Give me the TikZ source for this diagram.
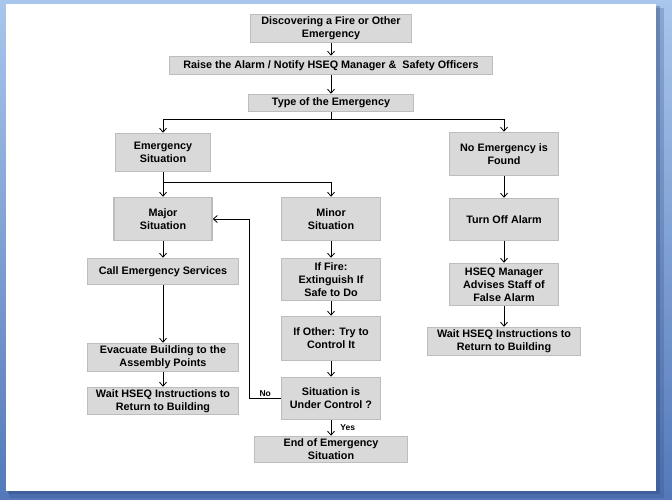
\documentclass[tikz,border=0pt]{standalone}
\usepackage{fontspec}
\setmainfont{Liberation Sans}
\usetikzlibrary{calc,arrows.meta}
\definecolor{boxfill}{HTML}{D9D9D9}
\definecolor{boxline}{HTML}{BDBDBD}
\definecolor{frametop}{HTML}{A9C6EC}
\definecolor{framebot}{HTML}{5479BA}
\definecolor{pageshade}{HTML}{2E4A80}
\begin{document}
\begin{tikzpicture}[x=1pt,y=-1pt,
  box/.style={draw=boxline, fill=boxfill, line width=1.5pt, align=center,
    inner sep=0pt, font=\fontsize{10.8}{13}\selectfont\bfseries},
  lbl/.style={inner sep=1pt, font=\fontsize{8.5}{10}\selectfont\bfseries},
  link/.style={-{Straight Barb[length=4pt, width=7pt]}, line width=0.8pt}]
\useasboundingbox (0,0) rectangle (672,500);
\shade[top color=frametop, bottom color=framebot] (0,0) rectangle (672,500);
\fill[pageshade, opacity=0.25] (9,8) rectangle (664,498);
\fill[pageshade, opacity=0.35] (8,6) rectangle (660,494);
\fill[white] (6,4) rectangle (656,491);

\node[box, minimum width=161pt, minimum height=28pt] (disc) at (331,28.5) {Discovering a Fire or Other\\Emergency};
\node[box, minimum width=323pt, minimum height=18pt] (raise) at (331,65.5) {Raise the Alarm / Notify HSEQ Manager \&\ \ Safety Officers};
\node[box, minimum width=165pt, minimum height=17pt] (type) at (331,103) {Type of the Emergency};
\node[box, minimum width=95pt, minimum height=38pt] (emerg) at (163,152.5) {Emergency\\Situation};
\node[box, minimum width=109pt, minimum height=43pt] (noemerg) at (504,154) {No Emergency is\\Found};
\node[box, minimum width=98pt, minimum height=43pt] (major) at (163,219) {Major\\Situation};
\node[box, minimum width=99pt, minimum height=43pt] (minor) at (331,219) {Minor\\Situation};
\node[box, minimum width=151pt, minimum height=26pt] (call) at (163,271.5) {Call Emergency Services};
\node[box, minimum width=99pt, minimum height=42pt] (fire) at (331,279.5) {If Fire:\\Extinguish If\\Safe to Do};
\node[box, minimum width=99pt, minimum height=44pt] (other) at (331,338.5) {If Other: Try to\\Control It};
\node[box, minimum width=99pt, minimum height=42pt] (control) at (331,398.5) {Situation is\\Under Control ?};
\node[box, minimum width=151pt, minimum height=28pt] (evac) at (163,357.5) {Evacuate Building to the\\Assembly Points};
\node[box, minimum width=151pt, minimum height=27pt] (waitl) at (163,401) {Wait HSEQ Instructions to\\Return to Building};
\node[box, minimum width=153pt, minimum height=26pt] (endsit) at (331,449.5) {End of Emergency\\Situation};
\node[box, minimum width=109pt, minimum height=42pt] (turnoff) at (504,219.5) {Turn Off Alarm};
\node[box, minimum width=109pt, minimum height=42pt] (advise) at (504,284.5) {HSEQ Manager\\Advises Staff of\\False Alarm};
\node[box, minimum width=153pt, minimum height=28pt] (waitr) at (504,341.5) {Wait HSEQ Instructions to\\Return to Building};

\coordinate (tsplit) at ($(type.south)+(0,7)$);
\coordinate (esplit) at ($(emerg.south)+(0,10)$);
\draw[link] (disc) -- (raise);
\draw[link] (raise) -- (type);
\draw[line width=0.8pt] (type.south) -- (tsplit);
\draw[link] (tsplit) -| (emerg.north);
\draw[link] (tsplit) -| (noemerg.north);
\draw[link] (emerg) -- (major);
\draw[link] (esplit) -| (minor.north);
\draw[link] (major) -- (call);
\draw[link] (call) -- (evac);
\draw[link] (evac) -- (waitl);
\draw[link] (minor) -- (fire);
\draw[link] (fire) -- (other);
\draw[link] (other) -- (control);
\draw[link] (control) -- (endsit) node[lbl, midway, right=8pt] {Yes};
\draw[link] (control.west) -- ++(-31,0) node[lbl, midway, above=1pt] {No} |- (major.east);
\draw[link] (noemerg) -- (turnoff);
\draw[link] (turnoff) -- (advise);
\draw[link] (advise) -- (waitr);
\end{tikzpicture}
\end{document}
